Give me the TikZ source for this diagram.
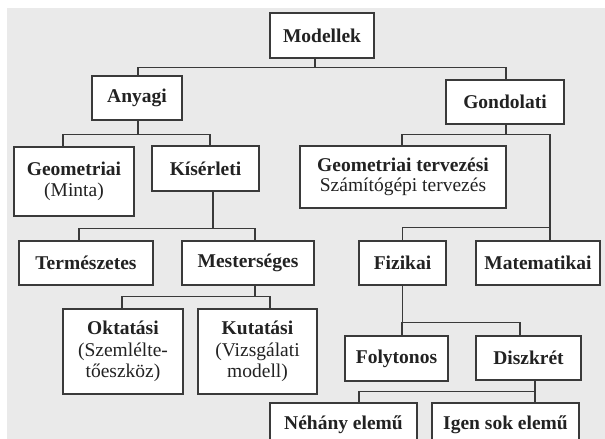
\documentclass[tikz,border=0pt]{standalone}
\usepackage{fontspec}
\setmainfont{Liberation Serif}
\usetikzlibrary{calc}
\definecolor{linec}{HTML}{3A3A3A}
\definecolor{textc}{HTML}{222222}
\definecolor{bgc}{HTML}{EAEAEA}
\begin{document}
\begin{tikzpicture}[x=1pt,y=1pt,
  box/.style={draw=linec, line width=1.2pt, fill=white, inner sep=0pt, align=center,
    font=\fontsize{19.5}{21.5}\selectfont\bfseries, text=textc},
  conn/.style={draw=linec, line width=1.2pt}]
\useasboundingbox (0,0) rectangle (605,-439);
\fill[bgc] (7,-8) rectangle (605,-439);
\clip (0,0) rectangle (605,-439);

\node[box, minimum width=104pt, minimum height=45pt] (mod) at (322,-35.5) {Modellek};
\node[box, minimum width=90pt, minimum height=44pt] (any) at (137,-98) {Anyagi};
\node[box, minimum width=118pt, minimum height=44pt] (gon) at (505,-102) {Gondolati};
\node[box, minimum width=120pt, minimum height=69pt] (geo) at (74,-181.5) {Geometriai\\\textmd{(Minta)}};
\node[box, minimum width=107pt, minimum height=45pt] (kis) at (205.5,-168.5) {Kísérleti};
\node[box, minimum width=206pt, minimum height=62pt, font=\fontsize{19.5}{20}\selectfont\bfseries] (gt) at (403,-177) {Geometriai tervezési\\\textmd{Számítógépi tervezés}};
\node[box, minimum width=134pt, minimum height=44pt] (ter) at (86,-263) {Természetes};
\node[box, minimum width=132pt, minimum height=44pt] (mes) at (248,-263) {Mesterséges};
\node[box, minimum width=87pt, minimum height=44pt] (fiz) at (402.5,-263) {Fizikai};
\node[box, minimum width=124pt, minimum height=44pt] (mat) at (538,-263) {Matematikai};
\node[box, minimum width=120pt, minimum height=85pt] (okt) at (123,-351.5) {Oktatási\\\textmd{(Szemlélte-}\\\textmd{tőeszköz)}};
\node[box, minimum width=119pt, minimum height=85pt] (kut) at (257.5,-351.5) {Kutatási\\\textmd{(Vizsgálati}\\\textmd{modell)}};
\node[box, minimum width=103pt, minimum height=45pt] (fol) at (396.5,-358.5) {Folytonos};
\node[box, minimum width=105pt, minimum height=44pt] (dis) at (528.5,-358) {Diszkrét};
\node[box, minimum width=147pt, minimum height=44pt] (neh) at (343.5,-425) {Néhány elemű};
\node[box, minimum width=147pt, minimum height=44pt] (igen) at (505.5,-425) {Igen sok elemű};

\coordinate (j1) at ($(mod.south)+(-7,-9)$);
\draw[conn] ($(mod.south)+(-7,0)$) -- (j1);
\draw[conn] ($(any.north)+(1,0)$) |- (j1) -| ($(gon.north)+(1,0)$);

\coordinate (j2) at ($(any.south)+(1,-14)$);
\draw[conn] ($(any.south)+(1,0)$) -- (j2);
\draw[conn] ($(geo.north)+(-11,0)$) |- (j2) -| ($(kis.north)+(4.5,0)$);

\coordinate (j3) at ($(gon.south)+(1,-10)$);
\coordinate (j4) at ($(mat.north)+(12,13)$);
\draw[conn] ($(gon.south)+(1,0)$) -- (j3);
\draw[conn] ($(gt.north)+(-1,0)$) |- (j3) -| (j4);
\draw[conn] (fiz.north) |- (j4) -- ($(mat.north)+(12,0)$);

\coordinate (j5) at ($(kis.south)+(7.5,-37)$);
\draw[conn] ($(kis.south)+(7.5,0)$) -- (j5);
\draw[conn] ($(ter.north)+(-7,0)$) |- (j5) -| ($(mes.north)+(7,0)$);

\coordinate (j6) at ($(mes.south)+(7,-11)$);
\draw[conn] ($(mes.south)+(7,0)$) -- (j6);
\draw[conn] ($(okt.north)+(-1,0)$) |- (j6) -| ($(kut.north)+(12.5,0)$);

\coordinate (j7) at ($(fiz.south)+(0,-37)$);
\draw[conn] (fiz.south) -- (j7);
\draw[conn] ($(fol.north)+(5.5,0)$) |- (j7) -| ($(dis.north)+(-8.5,0)$);

\coordinate (j8) at ($(dis.south)+(6.5,-11)$);
\draw[conn] ($(dis.south)+(6.5,0)$) -- (j8);
\draw[conn] ($(neh.north)+(15.5,0)$) |- (j8) -| ($(igen.north)+(29.5,0)$);
\end{tikzpicture}
\end{document}
